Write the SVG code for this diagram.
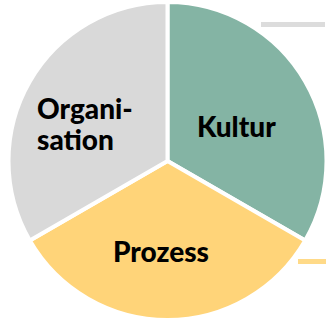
<svg xmlns="http://www.w3.org/2000/svg" width="327" height="320" viewBox="0 0 327 320">
<style>
.sec{stroke:#FFFFFF;stroke-width:4;stroke-linejoin:miter}
.lbl{font-family:Lato,"Open Sans","Liberation Sans",sans-serif;font-weight:900;font-size:28px;fill:#000000}
</style>
<rect width="327" height="320" fill="#FFFFFF"/>
<g id="connectors">
<rect x="261" y="22" width="64" height="5" fill="#DCDCDC"/>
<rect x="298" y="259" width="28" height="5" fill="#FFDA88"/>
</g>
<g id="kultur">
<path class="sec" fill="#84B4A4" d="M167.5,161 L167.5,2 A159,159 0 0 1 305.2,240.5 Z"/>
<text class="lbl" x="197" y="137">Kultur</text>
</g>
<g id="prozess">
<path class="sec" fill="#FFD479" d="M167.5,161 L305.2,240.5 A159,159 0 0 1 29.8,240.5 Z"/>
<text class="lbl" x="113" y="262">Prozess</text>
</g>
<g id="organisation">
<path class="sec" fill="#D9D9D9" d="M167.5,161 L29.8,240.5 A159,159 0 0 1 167.5,2 Z"/>
<text class="lbl" x="37" y="119">Organi-</text>
<text class="lbl" x="37" y="150">sation</text>
</g>
</svg>
